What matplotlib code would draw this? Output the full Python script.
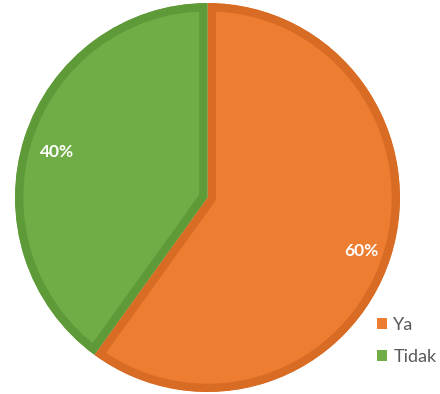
import matplotlib
matplotlib.use("Agg")
import matplotlib.pyplot as plt
import matplotlib.transforms as mtransforms
from matplotlib.patches import Patch

labels = ["Ya", "Tidak"]
shares = [60, 40]
fill_colors = ["#ED7D31", "#70AD47"]
edge_colors = ["#D86C24", "#5E9A38"]

plt.rcParams["font.family"] = ["Lato", "DejaVu Sans"]

fig = plt.figure(figsize=(4.40, 3.94), dpi=100)
# pie box in pixels: x 15..400, y 3..392
left, right, top, bottom = 15, 400, 3, 392
ax = fig.add_axes([left / 440, (394 - bottom) / 394, (right - left) / 440, (bottom - top) / 394])

wedges, texts, autotexts = ax.pie(
    shares,
    colors=fill_colors,
    startangle=90,
    counterclock=False,
    radius=1,
    autopct="%d%%",
    pctdistance=0.83,
    textprops=dict(color="white", fontsize=12.5, fontweight="bold"),
    wedgeprops=dict(linewidth=12),
)
# inset border: stroke each slice clipped to its own outline
for w, ec in zip(wedges, edge_colors):
    w.set_edgecolor(ec)
    w.set_clip_on(True)
    w.set_clip_path(w)
# percentage labels sit a little low and right of the slice midline
for t in autotexts:
    t.set_transform(mtransforms.offset_copy(ax.transData, fig=fig, x=1.5, y=-4, units="dots"))
ax.set_xlim(-1, 1)
ax.set_ylim(-1, 1)
ax.set_aspect("auto")
ax.axis("off")

handles = [Patch(facecolor=c, edgecolor="none") for c in fill_colors]
fig.legend(
    handles,
    labels,
    loc="upper left",
    bbox_to_anchor=(377 / 440, 1 - 317 / 394),
    frameon=False,
    fontsize=13,
    labelcolor="#595959",
    handlelength=0.55,
    handleheight=0.55,
    handletextpad=0.35,
    labelspacing=0.9,
    borderpad=0,
    borderaxespad=0,
)

fig.savefig("out.png", dpi=100, facecolor="white")
